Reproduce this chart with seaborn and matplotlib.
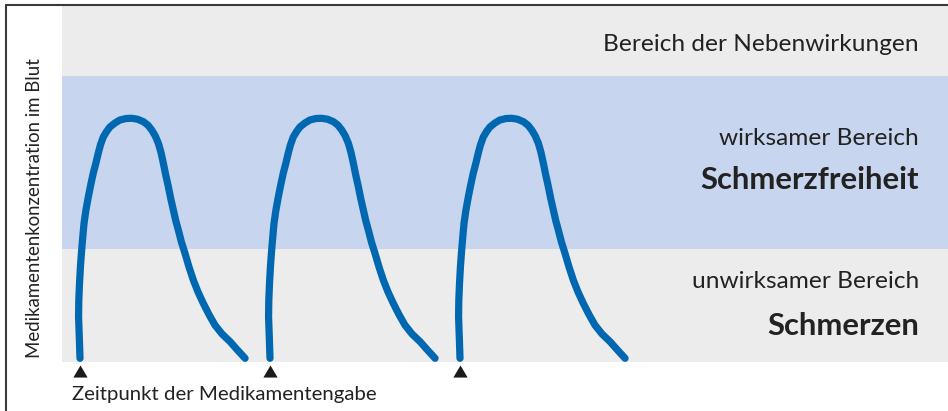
import pandas as pd
import matplotlib.pyplot as plt
from matplotlib.lines import Line2D
import seaborn as sns

sns.set_style('white')
plt.rcParams['font.family'] = ['Lato', 'DejaVu Sans']

# one dose: hours after intake vs. concentration (% of axis height)
profile_t = [0.00, -0.03, -0.06, -0.05, -0.02, 0.02, 0.07, 0.12, 0.17, 0.25, 0.35, 0.45,
             0.56, 0.67, 0.77, 0.86, 0.98, 1.12, 1.26, 1.47, 1.68, 1.94, 2.18, 2.42,
             2.67, 2.86, 3.02, 3.17, 3.30, 3.41, 3.51, 3.61, 3.72, 3.82, 3.93, 4.03,
             4.14, 4.27, 4.42, 4.59, 4.77, 4.97, 5.19, 5.43, 5.68, 5.98, 6.32, 6.63, 6.95]
profile_c = [1.04, 7.02, 12.64, 17.42, 22.19, 26.97, 31.46, 35.39, 39.04, 42.70, 46.35, 49.72,
             53.09, 55.90, 58.71, 60.96, 63.20, 64.75, 66.01, 67.13, 67.98, 68.40, 68.46, 68.20,
             67.50, 66.52, 65.17, 63.48, 61.43, 58.85, 55.81, 52.53, 49.24, 45.93, 42.70, 39.75,
             37.08, 33.71, 30.53, 26.69, 23.03, 19.66, 16.49, 13.34, 10.39, 7.87, 5.70, 3.37, 1.04]
dose_times = [0, 8, 16]

# concentration bands (bottom to top)
band_edges = [0, 31.7, 80.3, 100]
band_colors = ['#ececec', '#c7d5ee', '#ececec']

zone_labels = ['Bereich der Nebenwirkungen', 'wirksamer Bereich', 'Schmerzfreiheit',
               'unwirksamer Bereich', 'Schmerzen']
zone_bold = [False, False, True, False, True]
zone_baseline_px = [51, 145, 189, 288, 335]

df = pd.concat([pd.DataFrame({'t': [d + t for t in profile_t], 'c': profile_c, 'dose': i})
                for i, d in enumerate(dose_times)], ignore_index=True)

W, H = 948, 411
fig = plt.figure(figsize=(W / 100, H / 100), dpi=100)
ax = fig.add_axes([62 / W, (H - 362) / H, 886 / W, 356 / H])

for lo, hi, col in zip(band_edges[:-1], band_edges[1:], band_colors):
    ax.axhspan(lo, hi, color=col, lw=0, zorder=0)

sns.lineplot(data=df, x='t', y='c', units='dose', estimator=None, sort=False,
             color='#0067b1', linewidth=5.2, ax=ax, zorder=3)
for ln in ax.lines:
    ln.set_solid_capstyle('round')
    ln.set_solid_joinstyle('round')

tri = [(-1, -0.85), (1, -0.85), (0, 0.85)]
sns.scatterplot(x=dose_times, y=[-2.6] * len(dose_times), marker=tri, s=105,
                color='#1a1a1a', linewidth=0, clip_on=False, ax=ax, zorder=4)

ax.set_xlim(-0.758, 36.547)
ax.set_ylim(0, 100)
ax.axis('off')

for txt, bold, yb in zip(zone_labels, zone_bold, zone_baseline_px):
    fig.text(919 / W, 1 - yb / H, txt, ha='right', va='baseline', color='#222222',
             fontsize=22.3 if bold else 17.6, fontweight='bold' if bold else 'normal')

fig.text(35 / W, 1 - 358 / H, 'Medikamentenkonzentration im Blut', rotation=90,
         ha='center', va='bottom', fontsize=13.4, color='#222222')
fig.text(72 / W, 1 - 400 / H, 'Zeitpunkt der Medikamentengabe', ha='left',
         va='baseline', fontsize=14.7, color='#222222')

# outer frame (top and left edges visible)
fig.add_artist(Line2D([6 / W, 1], [1 - 5 / H, 1 - 5 / H], color='#3a3a3a', lw=1.5))
fig.add_artist(Line2D([6 / W, 6 / W], [0, 1 - 5 / H], color='#3a3a3a', lw=1.5))

fig.savefig('out.png', dpi=100)
